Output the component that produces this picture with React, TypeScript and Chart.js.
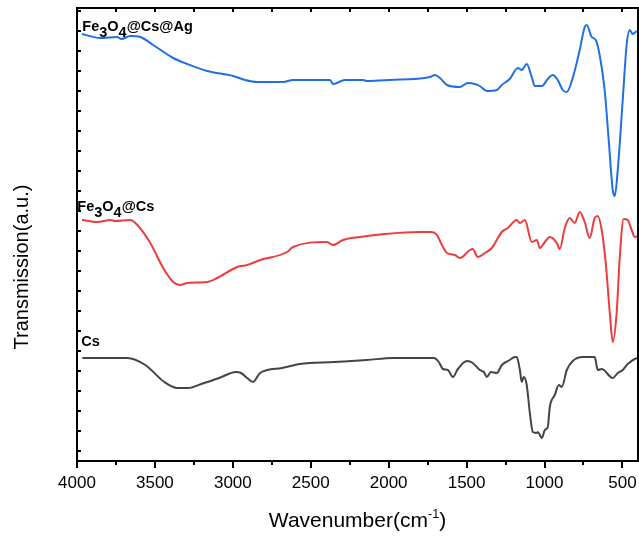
import React, { useEffect, useRef } from "react";
import { Chart, registerables } from "chart.js";

Chart.register(...registerables);

// Fe3O4@Cs@Ag (blue) — wavenumber (cm-1) and transmission (a.u.)
const AG_X = [3968, 3851, 3742, 3716, 3658, 3594, 3511, 3383, 3293, 3165, 2998, 2921, 2844, 2678, 2614, 2440, 2376, 2357, 2280, 2165, 2139, 1992, 1735, 1703, 1671, 1626, 1543, 1492, 1447, 1415, 1370, 1306, 1274, 1223, 1171, 1146, 1114, 1082, 1062, 1017, 979, 947, 915, 883, 857, 819, 774, 742, 729, 697, 671, 646, 614, 588, 562, 549, 530, 498, 473, 453, 434, 408];
const AG_Y = [417, 413, 414, 412, 415, 414, 406, 393, 387, 380, 375, 371, 369, 369, 371, 371, 371, 367, 371, 371, 370, 371, 374, 376, 373, 366, 364, 368, 367, 365, 360, 361, 366, 372, 383, 381, 387, 374, 365, 365, 372, 376, 371, 361, 359, 373, 401, 424, 426, 414, 411, 396, 361, 311, 261, 255, 281, 351, 406, 421, 417, 420];

// Fe3O4@Cs (red)
const FECS_X = [3968, 3870, 3786, 3754, 3658, 3613, 3530, 3447, 3383, 3338, 3293, 3165, 3101, 2972, 2908, 2825, 2652, 2614, 2396, 2357, 2293, 2184, 2024, 1799, 1723, 1690, 1658, 1626, 1575, 1543, 1479, 1460, 1428, 1383, 1338, 1274, 1235, 1178, 1158, 1126, 1082, 1049, 1030, 998, 966, 921, 902, 870, 838, 806, 774, 742, 710, 678, 658, 633, 607, 581, 562, 537, 517, 492, 466, 441, 421, 402];
const FECS_Y = [231, 229, 231, 230, 231, 226, 208, 183, 169, 166, 168, 169, 173, 184, 186, 191, 199, 204, 209, 206, 211, 214, 217, 219, 219, 216, 206, 198, 196, 193, 201, 202, 194, 198, 203, 219, 223, 231, 228, 231, 209, 211, 203, 209, 214, 208, 202, 223, 233, 228, 239, 229, 213, 233, 235, 221, 188, 138, 109, 138, 194, 232, 231, 221, 214, 215];

// Cs (grey)
const CS_X = [3966, 3678, 3562, 3440, 3357, 3287, 3203, 3088, 2979, 2947, 2908, 2870, 2825, 2684, 2569, 2351, 2139, 1973, 1710, 1678, 1652, 1620, 1588, 1556, 1498, 1460, 1415, 1389, 1370, 1344, 1306, 1274, 1223, 1190, 1178, 1158, 1146, 1133, 1114, 1094, 1075, 1049, 1043, 1017, 998, 979, 966, 934, 908, 889, 857, 819, 755, 678, 658, 633, 562, 530, 498, 466, 421, 402];
const CS_Y = [93, 93, 86, 69, 63, 63, 67, 73, 79, 78, 73, 69, 78, 83, 87, 89, 91, 93, 93, 89, 82, 81, 74, 82, 90, 88, 81, 79, 74, 79, 78, 86, 91, 94, 94, 81, 69, 74, 66, 38, 19, 18, 19, 13, 21, 24, 44, 56, 66, 64, 81, 90, 94, 94, 81, 82, 73, 78, 81, 87, 92, 93];

const X_TICKS = [4000, 3500, 3000, 2500, 2000, 1500, 1000, 500];

type Part = { t: string; sub?: boolean; sup?: boolean };

// series name annotations (data coordinates)
const SERIES_LABELS: { x: number; y: number; parts: Part[] }[] = [
  { x: 3966, y: 420, parts: [{ t: "Fe" }, { t: "3", sub: true }, { t: "O" }, { t: "4", sub: true }, { t: "@Cs@Ag" }] },
  { x: 3998, y: 240, parts: [{ t: "Fe" }, { t: "3", sub: true }, { t: "O" }, { t: "4", sub: true }, { t: "@Cs" }] },
  { x: 3972, y: 105, parts: [{ t: "Cs" }] },
];

const X_TITLE: Part[] = [{ t: "Wavenumber(cm" }, { t: "-1", sup: true }, { t: ")" }];
const Y_TITLE = "Transmission(a.u.)";

const FONT = '"Liberation Sans", Arial, Helvetica, sans-serif';

function drawRich(ctx: CanvasRenderingContext2D, parts: Part[], x: number, y: number, size: number, bold: boolean, subScale: number, supScale: number) {
  let cx = x;
  for (const p of parts) {
    const fs = p.sub ? size * subScale : p.sup ? size * supScale : size;
    ctx.font = `${bold ? "bold " : ""}${fs}px ${FONT}`;
    const dy = p.sub ? size * 0.42 : p.sup ? -size * 0.42 : 0;
    ctx.fillText(p.t, cx, y + dy);
    cx += ctx.measureText(p.t).width;
  }
  return cx - x;
}

function measureRich(ctx: CanvasRenderingContext2D, parts: Part[], size: number, bold: boolean, subScale: number, supScale: number) {
  let w = 0;
  for (const p of parts) {
    const fs = p.sub ? size * subScale : p.sup ? size * supScale : size;
    ctx.font = `${bold ? "bold " : ""}${fs}px ${FONT}`;
    w += ctx.measureText(p.t).width;
  }
  return w;
}

const framePlugin = {
  id: "frameAndText",
  afterDraw(chart: any) {
    const { ctx, chartArea: a, scales } = chart;
    const xs = scales.x;
    const ys = scales.y;
    ctx.save();
    ctx.strokeStyle = "#000";
    ctx.lineWidth = 2;
    ctx.strokeRect(a.left, a.top, a.right - a.left, a.bottom - a.top);
    ctx.beginPath();
    for (let v = 4000; v >= 400; v -= 250) {
      const px = Math.round(xs.getPixelForValue(v));
      const major = v % 500 === 0;
      ctx.moveTo(px, a.bottom);
      ctx.lineTo(px, a.bottom + (major ? 7 : 4));
      ctx.moveTo(px, a.top);
      ctx.lineTo(px, a.top + 4);
    }
    for (let v = 0; v <= 440; v += 20) {
      const py = Math.round(ys.getPixelForValue(v));
      ctx.moveTo(a.left, py);
      ctx.lineTo(a.left + 4, py);
    }
    ctx.stroke();

    ctx.fillStyle = "#000";
    ctx.textBaseline = "alphabetic";
    ctx.textAlign = "left";
    for (const l of SERIES_LABELS) {
      drawRich(ctx, l.parts, xs.getPixelForValue(l.x), ys.getPixelForValue(l.y), 14.5, true, 1, 1);
    }

    // x title
    const tw = measureRich(ctx, X_TITLE, 21, false, 1, 0.6);
    const cx = (a.left + a.right) / 2;
    drawRich(ctx, X_TITLE, cx - tw / 2, 527, 21, false, 1, 0.6);

    // y title
    ctx.font = `20px ${FONT}`;
    ctx.translate(28, 267);
    ctx.rotate(-Math.PI / 2);
    ctx.textAlign = "center";
    ctx.fillText(Y_TITLE, 0, 0);
    ctx.restore();
  },
};

export default function App() {
  const ref = useRef<HTMLCanvasElement>(null);
  useEffect(() => {
    document.body.style.margin = "0";
    const toPts = (xs: number[], ys: number[]) => xs.map((x, i) => ({ x, y: ys[i] }));
    const common = { pointRadius: 0, borderWidth: 2, tension: 0.4, cubicInterpolationMode: "monotone" as const, fill: false };
    const chart = new Chart(ref.current as HTMLCanvasElement, {
      type: "line",
      data: {
        datasets: [
          { label: "Fe3O4@Cs@Ag", data: toPts(AG_X, AG_Y), borderColor: "#1f6fe3", ...common },
          { label: "Fe3O4@Cs", data: toPts(FECS_X, FECS_Y), borderColor: "#ee3b3b", ...common },
          { label: "Cs", data: toPts(CS_X, CS_Y), borderColor: "#444444", ...common },
        ],
      },
      options: {
        animation: false,
        responsive: false,
        devicePixelRatio: 1,
        layout: { padding: { top: 8, right: 1, left: 0, bottom: 0 } },
        plugins: { legend: { display: false }, tooltip: { enabled: false } },
        scales: {
          x: {
            type: "linear",
            reverse: true,
            min: 400,
            max: 4000,
            afterBuildTicks: (s: any) => {
              s.ticks = X_TICKS.map((v) => ({ value: v }));
            },
            afterFit: (s: any) => {
              s.height = 75;
              s.paddingLeft = 0;
              s.paddingRight = 0;
            },
            grid: { display: false, drawTicks: true, tickLength: 7 },
            border: { display: false },
            ticks: {
              padding: 5,
              color: "#000",
              maxRotation: 0,
              autoSkip: false,
              font: { family: FONT, size: 17 },
              callback: (v: any) => String(v),
            },
          },
          y: {
            type: "linear",
            min: -10,
            max: 443,
            ticks: { display: false },
            grid: { display: false },
            border: { display: false },
            afterFit: (s: any) => {
              s.width = 77;
            },
          },
        },
      },
      plugins: [framePlugin],
    });
    return () => chart.destroy();
  }, []);
  return <canvas ref={ref} width={639} height={536} style={{ display: "block" }} />;
}
